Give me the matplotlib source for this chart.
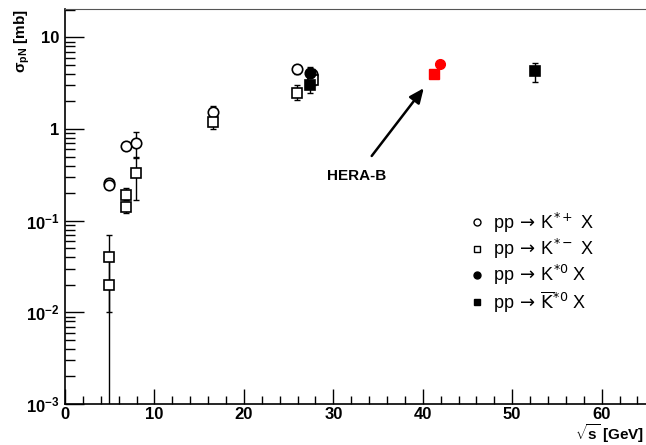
import matplotlib
matplotlib.use('Agg')
import matplotlib.pyplot as plt
from matplotlib.lines import Line2D
from matplotlib.ticker import FixedLocator, NullFormatter, MultipleLocator

plt.rcParams['font.family'] = ['Liberation Sans', 'DejaVu Sans']
plt.rcParams['mathtext.fontset'] = 'custom'
plt.rcParams['mathtext.rm'] = 'Liberation Sans'
plt.rcParams['mathtext.it'] = 'Liberation Sans:italic'
plt.rcParams['mathtext.bf'] = 'Liberation Sans:bold'

# pp -> K*+ X (open circles)
kp_x = [4.9, 4.9, 6.8, 7.9, 16.6, 25.9, 27.6]
kp_y = [0.26, 0.245, 0.65, 0.70, 1.53, 4.5, 4.0]
kp_lo = [0.02, 0.02, 0.03, 0.22, 0.15, 0.5, 0.5]
kp_hi = [0.02, 0.02, 0.03, 0.23, 0.25, 0.5, 0.5]

# pp -> K*- X (open squares)
km_x = [4.9, 4.9, 6.8, 6.8, 7.9, 16.6, 25.9, 27.7]
km_y = [0.040, 0.020, 0.19, 0.14, 0.33, 1.19, 2.5, 3.4]
km_lo = [0.03, 0.0199, 0.02, 0.02, 0.16, 0.19, 0.43, 0.4]
km_hi = [0.03, 0.02, 0.04, 0.02, 0.17, 0.2, 0.5, 0.4]

# pp -> K*0 X (filled circles)
k0_x = [27.4]
k0_y = [4.05]
k0_lo = [0.6]
k0_hi = [0.75]

# pp -> anti-K*0 X (filled squares)
ak0_x = [27.4, 52.5]
ak0_y = [3.0, 4.27]
ak0_lo = [0.55, 1.0]
ak0_hi = [0.4, 0.95]

# HERA-B
hb_circ_x, hb_circ_y = [41.9], [5.06]
hb_sq_x, hb_sq_y = [41.2], [3.96]

fig = plt.figure(figsize=(6.46, 4.45), dpi=100, facecolor='white')
ax = fig.add_axes([0.1006, 0.092, 0.9, 0.887])


def draw(x, y, lo, hi, marker, filled):
    ax.errorbar(x, y, yerr=[lo, hi], fmt='none', ecolor='black', elinewidth=1.0,
                capsize=2.5, capthick=1.0, zorder=2)
    ax.plot(x, y, linestyle='none', marker=marker, markersize=7.5,
            markerfacecolor='black' if filled else 'white', markeredgecolor='black',
            markeredgewidth=1.2, zorder=3)


draw(kp_x, kp_y, kp_lo, kp_hi, 'o', False)
draw(km_x, km_y, km_lo, km_hi, 's', False)
draw(k0_x, k0_y, k0_lo, k0_hi, 'o', True)
draw(ak0_x, ak0_y, ak0_lo, ak0_hi, 's', True)
ax.plot(hb_sq_x, hb_sq_y, 's', color='red', markersize=6.5, zorder=4)
ax.plot(hb_circ_x, hb_circ_y, 'o', color='red', markersize=7, zorder=4)

ax.annotate('HERA-B', xy=(40.3, 2.95), xytext=(32.6, 0.31),
            ha='center', va='center', fontsize=11, fontweight='bold',
            arrowprops=dict(arrowstyle='-|>,head_length=0.8,head_width=0.35',
                            color='black', lw=1.8, shrinkA=9))

ax.set_yscale('log')
ax.set_xlim(0, 65)
ax.set_ylim(1e-3, 20.2)

ax.yaxis.set_major_locator(FixedLocator([1e-3, 1e-2, 1e-1, 1, 10]))
ax.set_yticklabels([r'$\mathbf{10^{-3}}$', r'$\mathbf{10^{-2}}$', r'$\mathbf{10^{-1}}$',
                    '1', '10'], fontsize=12, fontweight='bold')
ax.yaxis.set_minor_formatter(NullFormatter())
ax.xaxis.set_major_locator(MultipleLocator(10))
ax.xaxis.set_minor_locator(MultipleLocator(2))
for lab in ax.get_xticklabels():
    lab.set_fontweight('bold')
    lab.set_fontsize(12)

ax.tick_params(which='both', direction='in', top=False, right=False, width=1.0)
ax.tick_params(which='major', length=14, pad=4)
ax.tick_params(which='minor', length=7)
ax.tick_params(axis='x', which='major', length=11, pad=2)
ax.tick_params(axis='x', which='minor', length=6)
for s in ['left', 'bottom']:
    ax.spines[s].set_linewidth(1.2)
ax.spines['top'].set_color('#555555')
ax.spines['right'].set_visible(False)

fig.text(0.035, 0.98, r'$\mathbf{\sigma_{pN}}$ [mb]', rotation=90, ha='center', va='top',
         fontsize=11, fontweight='bold')
fig.text(0.997, 0.0, r'$\mathbf{\sqrt{s}}$ [GeV]', ha='right', va='bottom',
         fontsize=11, fontweight='bold')

handles = [
    Line2D([], [], ls='none', marker='o', mfc='white', mec='black', ms=5),
    Line2D([], [], ls='none', marker='s', mfc='white', mec='black', ms=5),
    Line2D([], [], ls='none', marker='o', mfc='black', mec='black', ms=5),
    Line2D([], [], ls='none', marker='s', mfc='black', mec='black', ms=5),
]
labels = [r'pp$\,\rightarrow\,$K$^{*+}$ X', r'pp$\,\rightarrow\,$K$^{*-}$ X',
          r'pp$\,\rightarrow\,$K$^{*0}$ X', r'pp$\,\rightarrow\,\overline{\mathrm{K}}^{*0}$ X']
leg = ax.legend(handles, labels, loc='lower left', bbox_to_anchor=(0.665, 0.185), frameon=False,
                fontsize=13, handletextpad=0.4, labelspacing=0.12, handlelength=1.0)
for t in leg.get_texts():
    t.set_math_fontfamily('dejavusans')

fig.savefig('out.png', dpi=100, facecolor='white')
